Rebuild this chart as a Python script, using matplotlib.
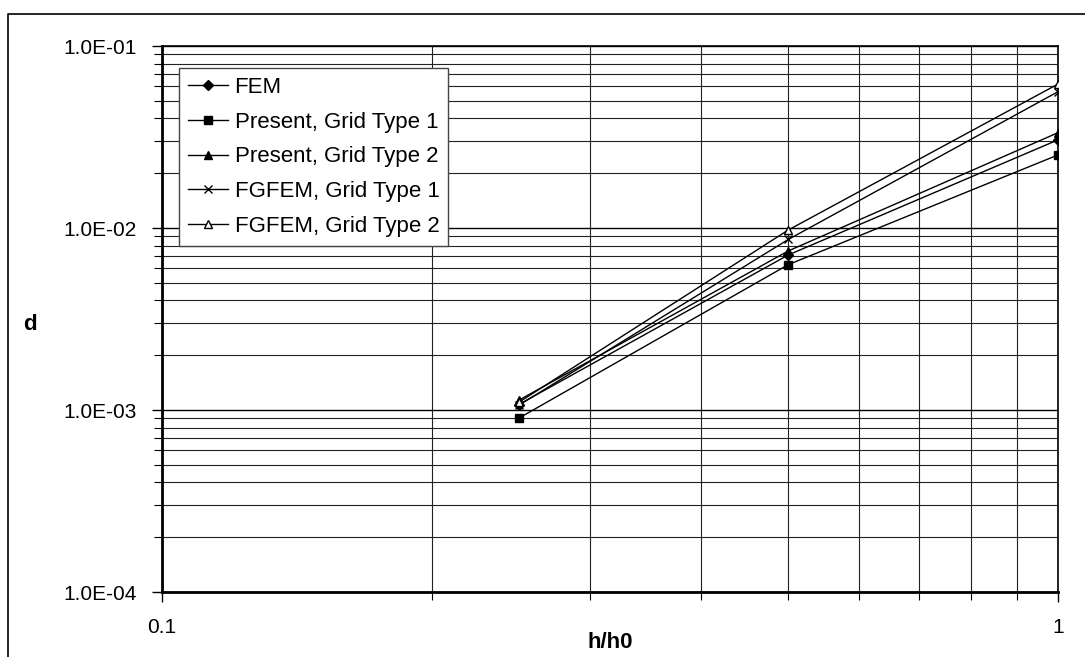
import matplotlib
matplotlib.use("Agg")
import matplotlib.pyplot as plt
from matplotlib.lines import Line2D
from matplotlib.ticker import LogLocator, FixedLocator, NullFormatter, FuncFormatter

plt.rcParams['font.family'] = ['Liberation Sans', 'DejaVu Sans']

x_vals = [0.25, 0.5, 1.0]
fem = [1.07e-3, 7.11e-3, 3.05e-2]
present_g1 = [9.0e-4, 6.29e-3, 2.52e-2]
present_g2 = [1.13e-3, 7.48e-3, 3.34e-2]
fgfem_g1 = [1.06e-3, 8.65e-3, 5.61e-2]
fgfem_g2 = [1.10e-3, 9.75e-3, 6.18e-2]

series_names = ["FEM", "Present, Grid Type 1", "Present, Grid Type 2",
                "FGFEM, Grid Type 1", "FGFEM, Grid Type 2"]
series_vals = [fem, present_g1, present_g2, fgfem_g1, fgfem_g2]
markers = ["D", "s", "^", "x", "^"]
msizes = [5.5, 5.3, 6, 6, 6]
mfaces = ["black", "black", "black", "black", "white"]

W, H = 1085, 657
fig = plt.figure(figsize=(W / 100, H / 100), dpi=100)
ax = fig.add_axes([162 / W, 1 - 592 / H, (1058 - 162) / W, (592 - 46) / H])

for name, vals, m, ms, mf in zip(series_names, series_vals, markers, msizes, mfaces):
    ax.plot(x_vals, vals, color="black", lw=1.0, marker=m, markersize=ms,
            markerfacecolor=mf, markeredgecolor="black", markeredgewidth=1.0,
            label=name, zorder=3)

ax.set_xscale("log")
ax.set_yscale("log")
ax.set_xlim(0.1, 1)
ax.set_ylim(1e-4, 1e-1)

ax.xaxis.set_major_locator(FixedLocator([0.1, 1]))
ax.xaxis.set_minor_locator(LogLocator(base=10, subs=range(2, 10)))
ax.xaxis.set_minor_formatter(NullFormatter())
ax.xaxis.set_major_formatter(FuncFormatter(lambda v, p: "0.1" if v < 0.5 else "1"))

ax.yaxis.set_major_locator(FixedLocator([1e-4, 1e-3, 1e-2, 1e-1]))
ax.yaxis.set_minor_locator(LogLocator(base=10, subs=range(2, 10)))
ax.yaxis.set_minor_formatter(NullFormatter())
ax.yaxis.set_major_formatter(FuncFormatter(lambda v, p: "%.1E" % v))

ax.grid(which="major", color="black", lw=1.0)
ax.grid(which="minor", color="#222222", lw=0.8)
ax.set_axisbelow(True)

ax.tick_params(which="major", direction="out", length=7, width=1, labelsize=15, pad=11, colors="black")
ax.tick_params(which="minor", direction="out", length=6, width=0.8)
ax.tick_params(axis="x", which="major", pad=12)

for s in ax.spines.values():
    s.set_color("black")
    s.set_linewidth(1.2)
ax.spines["left"].set_linewidth(2)
ax.spines["bottom"].set_linewidth(2)

fig.text(30 / W, 1 - 324 / H, "d", fontsize=16, fontweight="bold", ha="center", va="center")
fig.text(610 / W, 1 - 642 / H, "h/h0", fontsize=16, fontweight="bold", ha="center", va="center")

leg = ax.legend(loc="upper left", bbox_to_anchor=(17 / 896, 1 - 22 / 546), fontsize=16,
                frameon=True, fancybox=False, framealpha=1, edgecolor="#444444",
                borderpad=0.4, labelspacing=0.62, handlelength=1.8, handletextpad=0.3,
                borderaxespad=0)
leg.get_frame().set_linewidth(1.0)

fig.add_artist(Line2D([8 / W, 8 / W, 1.0], [0.0, 1 - 14 / H, 1 - 14 / H],
                      color="black", lw=1.2, transform=fig.transFigure))

fig.savefig("out.png", dpi=100)
